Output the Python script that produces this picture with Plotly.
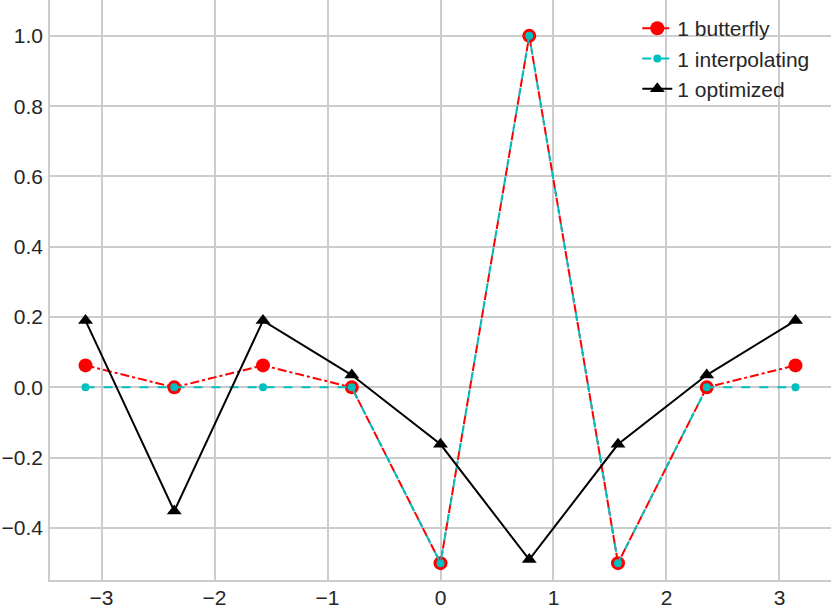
import numpy as np
import plotly.graph_objects as go

x_vals = [-np.pi, -3*np.pi/4, -np.pi/2, -np.pi/4, 0.0, np.pi/4, np.pi/2, 3*np.pi/4, np.pi]
butterfly = [0.0625, 0.0, 0.0625, 0.0, -0.5, 1.0, -0.5, 0.0, 0.0625]
interpolating = [0.0, 0.0, 0.0, 0.0, -0.5, 1.0, -0.5, 0.0, 0.0]
optimized = [0.19, -0.352, 0.19, 0.035, -0.162, -0.49, -0.162, 0.035, 0.19]

x_ticks = [-3, -2, -1, 0, 1, 2, 3]
x_ticklabels = ["\u22123", "\u22122", "\u22121", "0", "1", "2", "3"]
y_ticks = [-0.4, -0.2, 0.0, 0.2, 0.4, 0.6, 0.8, 1.0]
y_ticklabels = ["\u22120.4", "\u22120.2", "0.0", "0.2", "0.4", "0.6", "0.8", "1.0"]

FONT = "Liberation Sans, Arial, sans-serif"
GRID = "#cccccc"
FS = 21

fig = go.Figure()
fig.add_trace(go.Scatter(
    x=x_vals, y=butterfly, name="1 butterfly", mode="lines+markers",
    legendgroup="a",
    line=dict(color="#ff0000", width=2, dash="dashdot"),
    marker=dict(symbol="circle", size=14, color="#ff0000"),
))
fig.add_trace(go.Scatter(
    x=x_vals, y=interpolating, name="1 interpolating", mode="lines+markers",
    legendgroup="b",
    line=dict(color="#00bfbf", width=2, dash="dash"),
    marker=dict(symbol="circle", size=8, color="#00bfbf"),
))
fig.add_trace(go.Scatter(
    x=x_vals, y=optimized, name="1 optimized", mode="lines+markers",
    legendgroup="c",
    line=dict(color="#000000", width=2),
    marker=dict(symbol="triangle-up", size=13, color="#000000"),
))

axis_common = dict(
    showgrid=True, gridcolor=GRID, gridwidth=1.5, zeroline=False,
    showline=True, linecolor=GRID, linewidth=1.5, mirror=True,
    ticks="", automargin=False,
    tickfont=dict(family=FONT, size=FS, color="#262626"),
)

fig.update_layout(
    width=831, height=609,
    margin=dict(l=50, r=0, t=0, b=29, autoexpand=False),
    paper_bgcolor="white", plot_bgcolor="white",
    font=dict(family=FONT, size=FS, color="#262626"),
    showlegend=True,
    legend=dict(x=0.752, y=0.986, xanchor="left", yanchor="top",
                bgcolor="rgba(0,0,0,0)", borderwidth=0,
                font=dict(family=FONT, size=FS, color="#262626"),
                tracegroupgap=0),
    xaxis=dict(range=[-3.456, 3.456], tickvals=x_ticks, ticktext=x_ticklabels,
               ticklabelstandoff=-2, **axis_common),
    yaxis=dict(range=[-0.548, 1.102], tickvals=y_ticks, ticktext=y_ticklabels,
               ticklabelstandoff=1, **axis_common),
)

fig.write_html("out.html", config={"displayModeBar": False},
               post_script="document.body.style.margin='0';document.body.style.overflow='hidden';")
